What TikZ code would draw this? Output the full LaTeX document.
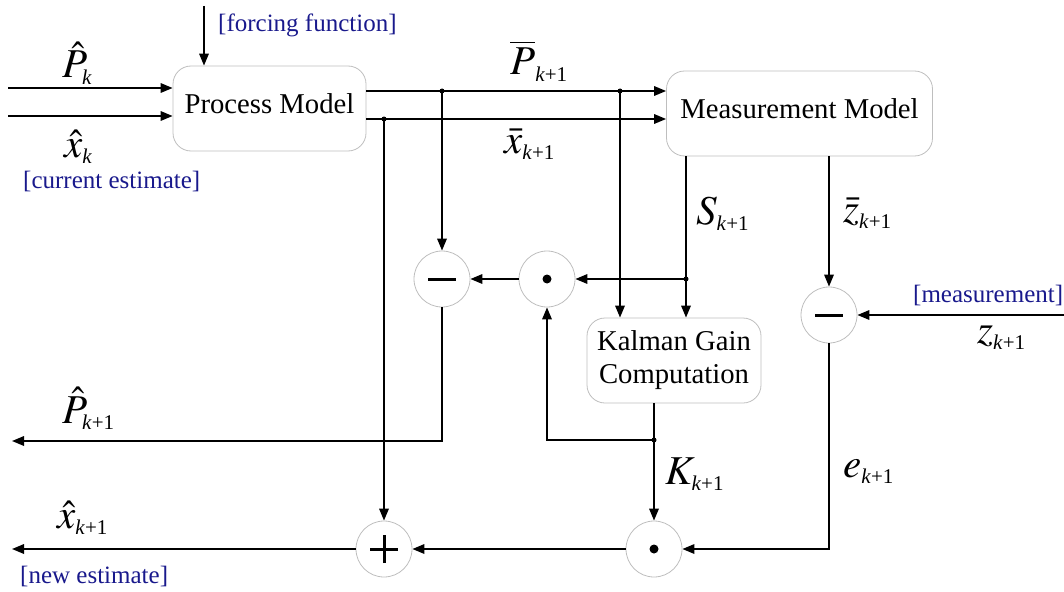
\documentclass[tikz,border=0pt]{standalone}
\usepackage{amsmath}
\usepackage{mathptmx}
\usepackage{fontspec}
\setmainfont{Liberation Serif}
\usetikzlibrary{arrows.meta,calc}
\definecolor{navy}{RGB}{25,25,140}
\definecolor{bordergray}{RGB}{190,190,190}
\newcommand\subk[1]{_{\text{\fontsize{21}{21}\selectfont\textit{k}#1}}}
\begin{document}
\begin{tikzpicture}[x=1pt,y=-1pt,
  arr/.style={-{Triangle[length=12pt,width=9.5pt]}, line width=1.7pt},
  wire/.style={line width=1.7pt},
  box/.style={draw=bordergray, line width=0.8pt, rounded corners=18pt, inner sep=0pt,
    font=\fontsize{28.7}{33}\selectfont, align=center},
  circ/.style={circle, draw=bordergray, line width=0.8pt, minimum size=56pt, inner sep=0pt},
  mlab/.style={inner sep=0pt, font=\fontsize{41}{45}\selectfont, anchor=base west},
  bluelab/.style={text=navy, inner sep=0pt, font=\fontsize{25}{28}\selectfont, anchor=base west},
  sym/.style={line width=3pt}]
\useasboundingbox (0,0) rectangle (1064,591);

% boxes
\node[box, minimum width=193pt, minimum height=85pt, text depth=10pt] (pm) at (269.5,108.5) {Process Model};
\node[box, minimum width=266pt, minimum height=85pt, text depth=10pt] (mm) at (799.5,113.5) {Measurement Model};
\node[box, minimum width=174pt, minimum height=85pt] (kg) at (674,360.5) {Kalman Gain\\Computation};

% circles
\node[circ] (m1) at (442,279) {};
\node[circ] (d1) at (547,279) {};
\node[circ] (m2) at (829,315) {};
\node[circ] (d2) at (654,549) {};
\node[circ] (pl) at (384,549) {};
\draw[sym] ([xshift=-14pt]m1.center) -- ([xshift=14pt]m1.center);
\draw[sym] ([xshift=-14pt]m2.center) -- ([xshift=14pt]m2.center);
\draw[sym] ([xshift=-14pt]pl.center) -- ([xshift=14pt]pl.center);
\draw[sym] ([yshift=-14pt]pl.center) -- ([yshift=14pt]pl.center);
\fill (d1.center) circle (4.5pt);
\fill (d2.center) circle (4.5pt);

% coordinates
\coordinate (inP) at (8,88);
\coordinate (inX) at (8,116);
\coordinate (ff) at (204,6);
\coordinate (jP) at (442,91);
\coordinate (jP2) at (620,91);
\coordinate (jX) at (384,119);
\coordinate (jS) at (686,279);
\coordinate (jK) at (654,440);
\coordinate (inZ) at (1064,315);
\coordinate (outP) at (12,441);
\coordinate (outX) at (12,549);

% connectors
\draw[arr] (inP) -- (inP -| pm.west);
\draw[arr] (inX) -- (inX -| pm.west);
\draw[arr] (ff) -- (ff |- pm.north);
\draw[arr] (pm.east |- jP) -- (mm.west |- jP);
\draw[arr] (pm.east |- jX) -- (mm.west |- jX);
\draw[arr] (jP) -- (m1.north);
\draw[arr] (jP2) -- (jP2 |- kg.north);
\draw[arr] (jS |- mm.south) -- (jS |- kg.north);
\draw[arr] (jS) -- (d1.east);
\draw[arr] (d1.west) -- (m1.east);
\draw[arr] (m1.south) |- (outP);
\draw[arr] (jX) -- (pl.north);
\draw[wire] (jK |- kg.south) -- (jK);
\draw[arr] (jK) -- (d2.north);
\draw[arr] (jK) -| (d1.south);
\draw[arr] (m2 |- mm.south) -- (m2.north);
\draw[arr] (inZ) -- (m2.east);
\draw[arr] (m2.south) |- (d2.east);
\draw[arr] (d2.west) -- (pl.east);
\draw[arr] (pl.west) -- (outX);

% junction dots
\foreach \j in {jP,jP2,jX,jS,jK} \fill (\j) circle (2.5pt);

% labels
\node[mlab] (lPk) at (62,78) {$\hat{P}\subk{}$};
\node[mlab] (lxk) at (64,157) {$\hat{x}\subk{}$};
\node[bluelab] (lce) at (23,188) {[current estimate]};
\node[bluelab] (lff) at (218,32) {[forcing function]};
\node[mlab] (lPb) at (510,75) {$\overline{P}\subk{+1}$};
\node[mlab] (lxb) at (504,153) {$\bar{x}\subk{+1}$};
\node[mlab] (lS) at (696,224) {$S\subk{+1}$};
\node[mlab] (lzb) at (843,222) {$\bar{z}\subk{+1}$};
\node[bluelab] (lme) at (913,302) {[measurement]};
\node[mlab] (lz) at (977,343) {$z\subk{+1}$};
\node[mlab] (lK) at (665,484) {$K\subk{+1}$};
\node[mlab] (le) at (843,477) {$e\subk{+1}$};
\node[mlab] (lPn) at (62,423) {$\hat{P}\subk{+1}$};
\node[mlab] (lxn) at (57,528) {$\hat{x}\subk{+1}$};
\node[bluelab] (lne) at (20,583) {[new estimate]};
\end{tikzpicture}
\end{document}
